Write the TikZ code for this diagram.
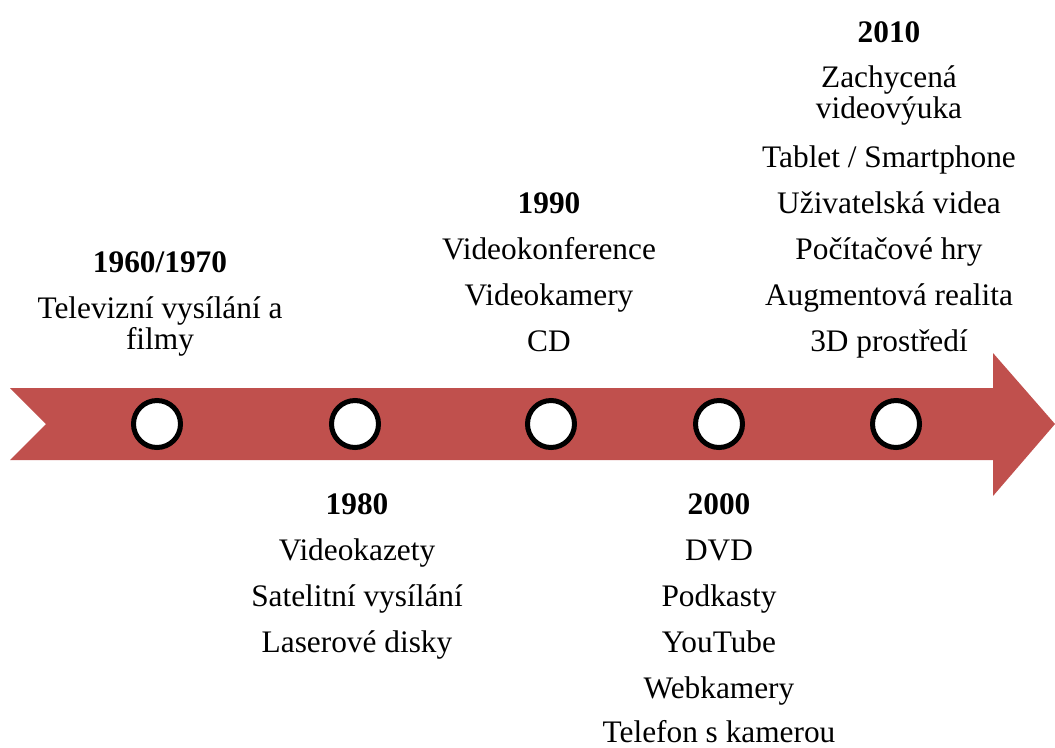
\documentclass[tikz,border=0pt]{standalone}
\usepackage{fontspec}
\setmainfont{Liberation Serif}
\usepackage{xcolor}
\usepackage{tikz}
\definecolor{band}{HTML}{C0504D}
\tikzset{
  bandfill/.style={fill=band, draw=none},
  dot/.style={circle, draw=black, fill=white, line width=3.75pt, minimum size=35.25pt, inner sep=0pt},
  yr/.style={font=\fontsize{23.5}{23.25}\selectfont\bfseries, anchor=base},
  lab/.style={font=\fontsize{23.5}{23.25}\selectfont, anchor=base, align=center},
}

\begin{document}
\begin{tikzpicture}[x=0.75pt,y=-0.75pt]
  \useasboundingbox (0,0) rectangle (1055,747);
  % band with notch and head
  \fill[bandfill] (10,388) -- (993,388) -- (993,353) -- (1055,424) -- (993,496)
    -- (993,460) -- (10,460) -- (46,424) -- cycle;
  \foreach \x/\n in {157/a,355/b,551/c,719/d,896/e}
    \node[dot] (p\n) at (\x,424) {};
  % 1960/1970 (multi-line nodes sit on their last line)
  \node[yr] (y1960) at (160,272) {1960/1970};
  \node[lab] (tv) at (160,349) {Televizní vysílání a\\filmy};
  % 1980
  \node[yr] (y1980) at (357,514) {1980};
  \node[lab] (vk) at (357,560) {Videokazety};
  \node[lab] (sat) at (357,606) {Satelitní vysílání};
  \node[lab] (ld) at (357,652) {Laserové disky};
  % 1990
  \node[yr] (y1990) at (549,213) {1990};
  \node[lab] (konf) at (549,259) {Videokonference};
  \node[lab] (kam) at (549,305) {Videokamery};
  \node[lab] (cd) at (549,351) {CD};
  % 2000
  \node[yr] (y2000) at (719,514) {2000};
  \node[lab] (dvd) at (719,560) {DVD};
  \node[lab] (pod) at (719,606) {Podkasty};
  \node[lab] (yt) at (719,652) {YouTube};
  \node[lab] (web) at (719,698) {Webkamery};
  \node[lab] (tel) at (719,742) {Telefon s kamerou};
  % 2010
  \node[yr] (y2010) at (889,42) {2010};
  \node[lab] (zach) at (889,118) {Zachycená\\videovýuka};
  \node[lab] (tab) at (889,167) {Tablet / Smartphone};
  \node[lab] (uziv) at (889,213) {Uživatelská videa};
  \node[lab] (hry) at (889,259) {Počítačové hry};
  \node[lab] (ar) at (889,305) {Augmentová realita};
  \node[lab] (env) at (889,351) {3D prostředí};
\end{tikzpicture}
\end{document}
